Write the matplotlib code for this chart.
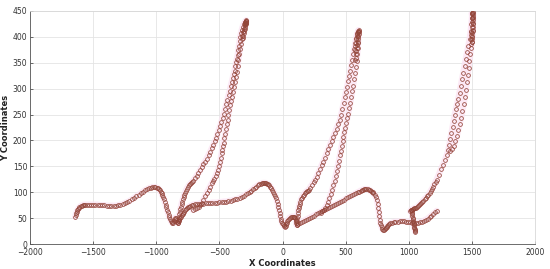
import numpy as np
import matplotlib
matplotlib.use('Agg')
import matplotlib.pyplot as plt

# trajectory, one list of (x, y) per stroke
start_to_v1 = [(-1642, 53), (-1638, 56), (-1634, 59), (-1630, 62), (-1625, 65), (-1620, 67), (-1614, 69),
               (-1608, 71), (-1600, 73), (-1592, 74), (-1583, 75), (-1573, 76), (-1562, 76), (-1550, 76),
               (-1535, 76), (-1518, 76), (-1500, 76), (-1482, 76), (-1464, 76), (-1446, 75), (-1428, 75),
               (-1410, 75), (-1392, 74), (-1374, 74), (-1356, 74), (-1338, 74), (-1320, 74), (-1302, 75),
               (-1284, 76), (-1266, 77), (-1248, 79), (-1230, 81), (-1212, 83), (-1194, 86), (-1176, 89),
               (-1158, 92), (-1140, 95), (-1122, 98), (-1105, 101), (-1088, 104), (-1072, 106), (-1057, 108),
               (-1043, 109), (-1030, 110), (-1018, 110), (-1007, 110), (-997, 109), (-988, 108), (-980, 106),
               (-972, 104), (-965, 101), (-958, 98), (-951, 94), (-944, 90), (-938, 86), (-932, 81), (-926, 76),
               (-920, 71), (-914, 66), (-908, 61), (-902, 56), (-896, 52), (-890, 48), (-884, 45), (-878, 42),
               (-872, 41), (-866, 41)]

v1_to_v2 = [(-860, 44), (-855, 48), (-850, 51), (-845, 50), (-840, 46), (-835, 43), (-830, 41), (-826, 41)]

rise_1 = [(-826, 44), (-823, 48), (-820, 52), (-817, 57), (-813, 62), (-809, 67), (-805, 72), (-800, 77),
          (-795, 82), (-790, 86), (-784, 91), (-778, 95), (-772, 99), (-765, 103), (-758, 107), (-750, 110),
          (-742, 113), (-735, 115), (-727, 117), (-720, 119), (-707, 122), (-693, 127), (-680, 132), (-666, 137),
          (-653, 142), (-640, 148), (-627, 154), (-613, 159), (-600, 165), (-586, 172), (-573, 178), (-560, 185),
          (-548, 191), (-536, 198), (-525, 204), (-515, 212), (-505, 220), (-495, 227), (-485, 235), (-475, 244),
          (-465, 252), (-455, 261), (-445, 270), (-436, 279), (-427, 288), (-418, 296), (-410, 305), (-402, 313),
          (-395, 320), (-387, 328), (-380, 335), (-373, 343), (-367, 351), (-361, 358), (-355, 365), (-350, 374),
          (-345, 383), (-340, 392), (-335, 400), (-329, 407), (-322, 414), (-315, 420), (-307, 425), (-298, 428),
          (-290, 430)]

top_1 = [(-300, 424), (-297, 427), (-294, 429), (-291, 431), (-288, 432), (-286, 430), (-288, 427), (-291, 424),
         (-295, 420), (-299, 416), (-303, 412), (-307, 407), (-311, 402), (-315, 398)]

fall_1 = [(-292, 426), (-298, 422), (-305, 416), (-311, 409), (-317, 402), (-323, 395), (-330, 386), (-337, 376),
          (-343, 366), (-350, 355), (-356, 344), (-363, 333), (-370, 323), (-378, 313), (-386, 303), (-393, 293),
          (-401, 284), (-408, 276), (-416, 268), (-422, 258), (-428, 249), (-434, 240), (-440, 231), (-446, 222),
          (-453, 213), (-460, 204), (-466, 196), (-471, 189), (-477, 182), (-482, 175), (-488, 167), (-494, 158),
          (-500, 150), (-510, 143), (-520, 137), (-530, 131), (-540, 126), (-550, 121), (-560, 117), (-573, 111),
          (-586, 105), (-600, 99), (-613, 92), (-627, 85), (-638, 80), (-650, 76), (-665, 72), (-680, 69),
          (-695, 67), (-710, 66)]

flat_to_v3 = [(-822, 44), (-816, 47), (-810, 50), (-804, 53), (-798, 56), (-792, 58), (-786, 60), (-780, 62),
              (-772, 65), (-764, 67), (-756, 69), (-748, 71), (-740, 72), (-730, 74), (-720, 75), (-708, 76),
              (-695, 77), (-680, 77), (-663, 78), (-645, 78), (-627, 78), (-609, 79), (-591, 79), (-573, 79),
              (-555, 80), (-537, 80), (-519, 80), (-501, 81), (-483, 81), (-465, 82), (-447, 82), (-429, 83),
              (-411, 84), (-393, 85), (-375, 86), (-357, 87), (-340, 89), (-323, 91), (-306, 93), (-290, 96),
              (-275, 98), (-260, 100), (-246, 103), (-233, 106), (-220, 109), (-208, 111), (-196, 113), (-185, 115),
              (-174, 116), (-164, 117), (-154, 118), (-145, 118), (-136, 118), (-128, 117), (-120, 116), (-112, 115),
              (-104, 113), (-96, 111), (-88, 108), (-80, 105), (-72, 101), (-64, 97), (-57, 93), (-50, 89),
              (-44, 84), (-38, 78), (-33, 72), (-28, 66), (-23, 60), (-18, 54), (-13, 49), (-8, 45), (-3, 41),
              (3, 38), (9, 36), (15, 34), (20, 33)]

v3_to_v4 = [(24, 35), (28, 38), (33, 41), (38, 44), (44, 47), (50, 49), (57, 51), (64, 52), (72, 53), (80, 53),
            (88, 53), (95, 52), (100, 50), (104, 47), (107, 44), (110, 40), (112, 37)]

rise_2 = [(112, 40), (114, 45), (116, 50), (119, 55), (122, 60), (125, 65), (128, 70), (132, 74), (136, 78),
          (141, 82), (147, 86), (153, 89), (160, 92), (168, 95), (176, 98), (184, 100), (192, 102), (200, 103),
          (208, 105), (218, 109), (232, 114), (246, 119), (259, 124), (271, 130), (284, 137), (297, 144),
          (310, 152), (323, 159), (337, 167), (350, 175), (363, 183), (376, 191), (389, 199), (402, 207),
          (415, 215), (428, 223), (442, 231), (455, 239), (465, 250), (475, 261), (485, 272), (494, 283),
          (503, 293), (512, 304), (521, 314), (530, 325), (538, 335), (546, 345), (553, 355), (561, 366),
          (569, 377), (577, 388), (585, 398), (592, 405), (600, 410)]

top_2 = [(598, 410), (600, 412), (602, 413), (603, 410), (602, 406), (600, 401), (598, 396), (596, 391),
         (593, 385), (590, 379), (586, 372), (583, 366), (579, 360), (576, 355), (593, 407), (589, 402),
         (585, 396), (581, 389), (577, 382), (573, 375)]

fall_2 = [(602, 411), (601, 400), (599, 389), (596, 378), (592, 366), (587, 354), (581, 342), (574, 330),
          (567, 318), (560, 306), (553, 295), (545, 284), (537, 273), (529, 262), (521, 252), (513, 243),
          (505, 234), (497, 225), (490, 216), (483, 207), (476, 198), (469, 189), (462, 180), (455, 171),
          (447, 161), (439, 151), (430, 141), (421, 131), (412, 122), (403, 113), (393, 104), (383, 96),
          (372, 88), (361, 81), (350, 75), (338, 70), (326, 66), (314, 63), (302, 60)]

low_to_v5 = [(112, 37), (125, 39), (140, 41), (155, 43), (170, 45), (186, 47), (202, 49), (218, 51), (234, 53),
             (250, 55), (266, 57), (282, 59), (298, 61), (314, 63), (330, 65), (346, 67), (362, 69), (378, 71),
             (394, 73), (410, 75), (426, 77), (442, 79), (458, 81), (474, 83), (490, 85), (506, 88), (522, 90),
             (538, 92), (554, 94), (568, 96), (582, 98), (595, 100), (607, 101), (618, 103), (628, 104),
             (638, 105), (647, 106), (656, 106), (665, 106), (674, 106), (683, 105), (691, 104), (699, 102),
             (706, 101), (713, 100), (720, 98), (730, 95), (740, 91), (748, 85), (754, 78), (759, 70), (763, 62),
             (767, 54), (771, 47), (775, 41), (780, 36), (786, 32), (792, 29), (798, 27), (805, 27)]

v5_to_end = [(812, 29), (818, 31), (824, 33), (831, 35), (838, 37), (846, 38), (855, 40), (866, 41), (880, 42),
             (895, 43), (911, 43), (927, 44), (943, 44), (959, 44), (975, 43), (991, 43), (1007, 42), (1023, 41),
             (1039, 40), (1055, 40), (1071, 41), (1087, 42), (1103, 43), (1119, 45), (1135, 47), (1150, 49),
             (1165, 52), (1180, 55), (1195, 58), (1209, 61), (1222, 64)]

drop_3 = [(1012, 63), (1016, 65), (1020, 66), (1023, 66), (1024, 63), (1025, 60), (1027, 57), (1028, 54),
          (1030, 51), (1032, 48), (1034, 45), (1036, 42), (1038, 39), (1040, 36), (1042, 33), (1044, 31),
          (1046, 29), (1048, 27), (1050, 25), (1052, 24)]

rise_3 = [(1030, 67), (1036, 68), (1042, 69), (1050, 69), (1058, 70), (1066, 71), (1074, 73), (1082, 75),
          (1090, 77), (1098, 79), (1106, 81), (1115, 84), (1125, 87), (1135, 89), (1145, 92), (1155, 95),
          (1165, 99), (1175, 103), (1185, 107), (1194, 111), (1203, 115), (1212, 120), (1221, 124), (1238, 134),
          (1254, 144), (1270, 152), (1287, 162), (1300, 171), (1313, 181), (1322, 192), (1330, 203), (1338, 214),
          (1347, 226), (1356, 238), (1364, 250), (1373, 260), (1382, 270), (1392, 280), (1402, 292), (1412, 305),
          (1422, 318), (1432, 331), (1442, 344), (1452, 357), (1462, 370), (1472, 383), (1482, 396), (1490, 410),
          (1496, 424), (1500, 436), (1503, 446)]

top_3 = [(1498, 445), (1502, 447), (1506, 448), (1510, 447), (1511, 443), (1510, 438), (1509, 432), (1508, 426),
         (1507, 420), (1506, 414), (1504, 408), (1502, 402), (1500, 396), (1498, 390), (1496, 387), (1492, 396),
         (1494, 404), (1497, 412), (1500, 420), (1502, 428), (1503, 436)]

fall_3 = [(1508, 436), (1508, 424), (1507, 412), (1504, 400), (1500, 390), (1494, 378), (1488, 366), (1481, 354),
          (1474, 340), (1467, 326), (1460, 312), (1452, 298), (1444, 284), (1435, 270), (1425, 257), (1415, 244),
          (1404, 232), (1392, 220), (1380, 208), (1368, 198), (1355, 190), (1340, 184), (1325, 180)]

strokes = [start_to_v1, v1_to_v2, rise_1, top_1, fall_1, flat_to_v3, v3_to_v4, rise_2, top_2, fall_2,
           low_to_v5, v5_to_end, drop_3, rise_3, top_3, fall_3]

x_ticks = [-2000, -1500, -1000, -500, 0, 500, 1000, 1500, 2000]
y_ticks = [0, 50, 100, 150, 200, 250, 300, 350, 400, 450]


def draw_stroke(ax, pts):
    xy = np.array(pts, dtype=float)
    # faint pink halo like the jpeg smear round the marks
    ax.plot(xy[:, 0], xy[:, 1], '-', color='#fce4f3', lw=4.5, alpha=0.8, zorder=1, solid_capstyle='round')
    ax.plot(xy[:, 0], xy[:, 1], 'o', ms=2.7, mfc='none', mec='#93463a', mew=0.55, zorder=3)


if __name__ == '__main__':

    fig = plt.figure(figsize=(5.5, 2.69), dpi=100)
    ax = fig.add_axes([30 / 550, 25 / 269, 505 / 550, 233 / 269])

    for s in strokes:
        draw_stroke(ax, s)

    ax.set_xlim(-2000, 2000)
    ax.set_ylim(0, 450)
    ax.set_xticks(x_ticks)
    ax.set_yticks(y_ticks)
    ax.tick_params(direction='in', length=2, width=0.5, labelsize=5.5, colors='#333333')
    ax.tick_params(axis='x', pad=3)
    ax.tick_params(axis='y', pad=2)
    ax.grid(True, color='#e4e4e4', lw=0.6, zorder=0)
    ax.set_axisbelow(True)
    for side in ['left', 'bottom']:
        ax.spines[side].set_color('#555555')
        ax.spines[side].set_linewidth(0.6)
    for side in ['top', 'right']:
        ax.spines[side].set_color('#d8d8d8')
        ax.spines[side].set_linewidth(0.6)

    ax.set_xlabel('X Coordinates', fontsize=6, fontweight='bold', color='#222222', labelpad=1)
    ax.set_ylabel('Y Coordinates', fontsize=6, fontweight='bold', color='#222222', labelpad=2)

    fig.savefig('out.png', dpi=100)
